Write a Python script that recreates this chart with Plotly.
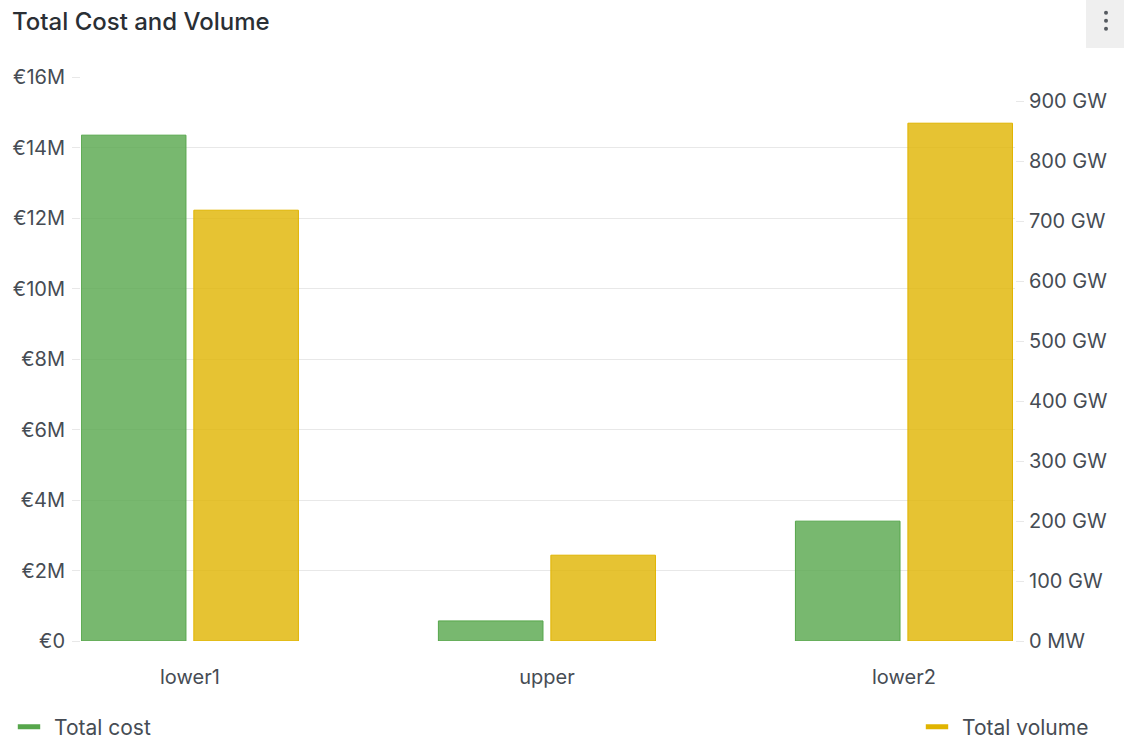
import plotly.graph_objects as go

# Panel data
categories = ["lower1", "upper", "lower2"]
total_cost_eur = [14.35e6, 0.57e6, 3.40e6]
total_volume_gw = [718, 143, 863]

cost_ticks = [0, 2e6, 4e6, 6e6, 8e6, 10e6, 12e6, 14e6, 16e6]
cost_tick_labels = ["€0", "€2M", "€4M", "€6M", "€8M", "€10M", "€12M", "€14M", "€16M"]
volume_ticks = [0, 100, 200, 300, 400, 500, 600, 700, 800, 900]
volume_tick_labels = ["0 MW", "100 GW", "200 GW", "300 GW", "400 GW", "500 GW",
                      "600 GW", "700 GW", "800 GW", "900 GW"]

GREEN = "#56A64B"
GREEN_FILL = "rgba(86,166,75,0.8)"
YELLOW = "#E0B400"
YELLOW_FILL = "rgba(224,180,0,0.8)"
TEXT = "#464c54"
GRID = "#e8e8e8"
FONT = "Inter"
TICK_SIZE = 20
LEGEND_SIZE = 21

W, H = 1124, 740
L, R, T, B = 81, 109, 77, 99
PW, PH = W - L - R, H - T - B


def px_x(x):
    return (x - L) / PW


def px_y(y):
    return (H - B - y) / PH


fig = go.Figure()

fig.add_trace(go.Bar(
    x=categories, y=total_cost_eur, name="Total cost",
    marker=dict(color=GREEN_FILL, line=dict(color=GREEN, width=1)),
    offsetgroup="cost", yaxis="y", showlegend=False,
))
fig.add_trace(go.Bar(
    x=categories, y=total_volume_gw, name="Total volume",
    marker=dict(color=YELLOW_FILL, line=dict(color=YELLOW, width=1)),
    offsetgroup="volume", yaxis="y2", showlegend=False,
))

# Legend entries drawn as short thick dashes
fig.add_trace(go.Scatter(
    x=[None], y=[None], mode="markers", name="Total cost",
    marker=dict(symbol="line-ew", size=23, line=dict(color=GREEN, width=5)),
    legend="legend",
))
fig.add_trace(go.Scatter(
    x=[None], y=[None], mode="markers", name="Total volume",
    marker=dict(symbol="line-ew", size=23, line=dict(color=YELLOW, width=5)),
    legend="legend2",
))

fig.update_layout(
    width=W, height=H,
    margin=dict(l=L, r=R, t=T, b=B, autoexpand=False),
    paper_bgcolor="white", plot_bgcolor="white",
    font=dict(family=FONT, size=TICK_SIZE, color=TEXT),
    barmode="group", bargap=0.37, bargroupgap=0.07,
    title=dict(
        text="Total Cost and Volume", x=12 / W, xanchor="left",
        y=1 - 22 / H, yanchor="middle",
        font=dict(family=FONT, size=24, color="#2a2f35", weight=500),
    ),
    xaxis=dict(
        range=[-0.305, 2.311], showgrid=False, zeroline=False, showline=False,
        ticks="", tickfont=dict(size=TICK_SIZE, color=TEXT), ticklabelstandoff=22,
    ),
    yaxis=dict(
        range=[0, 16e6], tickvals=cost_ticks, ticktext=cost_tick_labels,
        showgrid=True, gridcolor=GRID, gridwidth=1, zeroline=False,
        ticks="outside", ticklen=8, tickcolor=GRID,
        tickfont=dict(size=TICK_SIZE, color=TEXT), ticklabelstandoff=3,
        ticklabelshift=0,
    ),
    yaxis2=dict(
        range=[0, 940], tickvals=volume_ticks, ticktext=volume_tick_labels,
        overlaying="y", side="right", showgrid=False, zeroline=False,
        ticks="outside", ticklen=8, tickcolor=GRID,
        tickfont=dict(size=TICK_SIZE, color=TEXT), ticklabelstandoff=1,
    ),
    legend=dict(
        x=px_x(4), y=px_y(727), xanchor="left", yanchor="middle",
        orientation="h", font=dict(size=LEGEND_SIZE, color=TEXT), itemwidth=40,
        bgcolor="rgba(0,0,0,0)",
    ),
    legend2=dict(
        x=px_x(1094), y=px_y(727), xanchor="right", yanchor="middle",
        orientation="h", font=dict(size=LEGEND_SIZE, color=TEXT), itemwidth=40,
        bgcolor="rgba(0,0,0,0)",
    ),
    showlegend=True,
)

# Panel menu button in the top-right corner
fig.add_shape(type="rect", xref="paper", yref="paper",
              x0=px_x(1086), x1=px_x(1124), y0=px_y(48), y1=px_y(0),
              fillcolor="#efefef", line=dict(width=0), layer="below")
for dot_y in (12.7, 20.7, 28.7):
    fig.add_shape(type="circle", xref="paper", yref="paper",
                  x0=px_x(1104), x1=px_x(1108), y0=px_y(dot_y + 2), y1=px_y(dot_y - 2),
                  fillcolor="#555a60", line=dict(width=0))

fig.write_html("out.html")
